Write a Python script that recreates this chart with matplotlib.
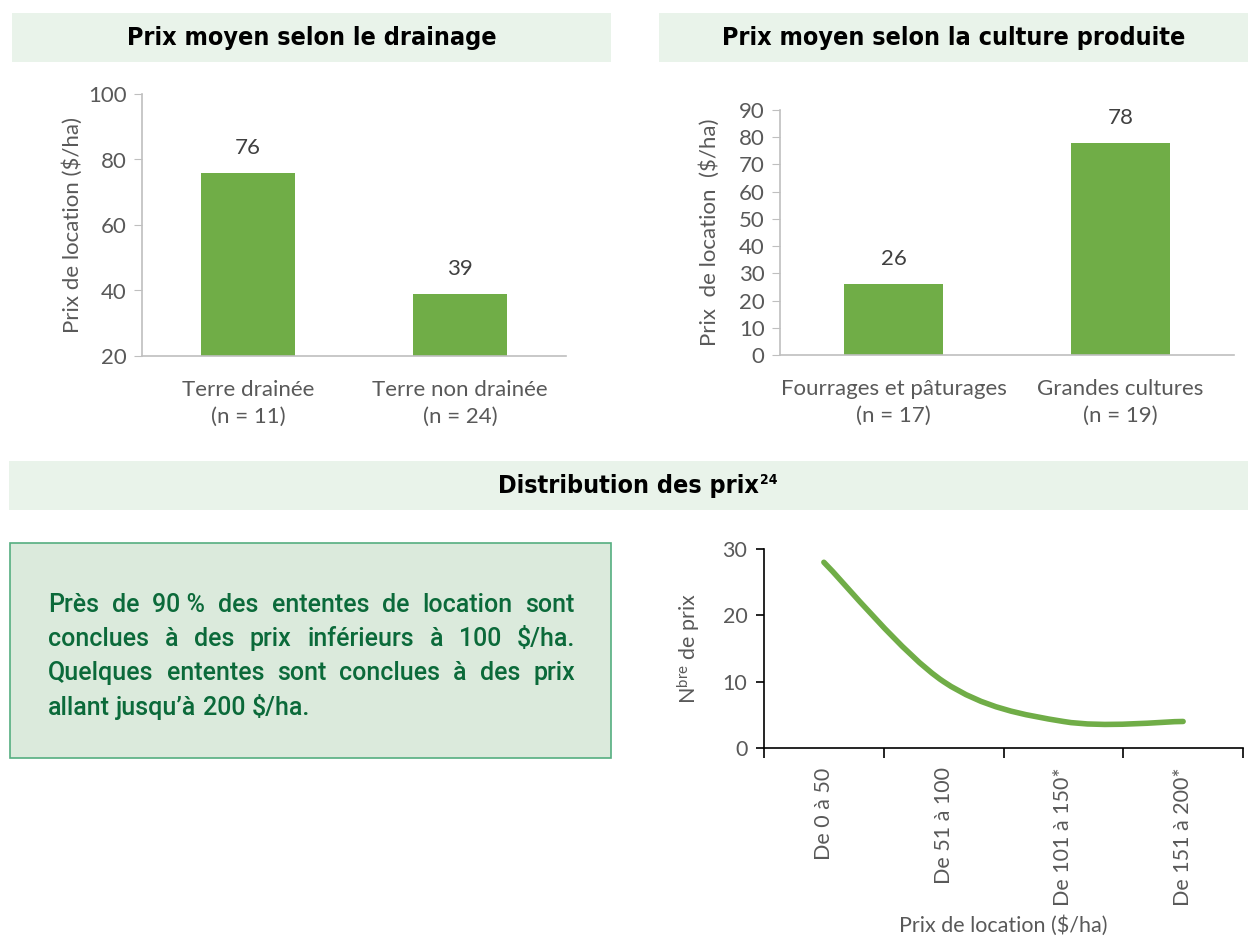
import numpy as np
import matplotlib
matplotlib.use("Agg")
import matplotlib.pyplot as plt
from matplotlib.patches import Rectangle, PathPatch
from matplotlib.path import Path
from matplotlib import font_manager
from matplotlib.font_manager import FontProperties

# ---- data -------------------------------------------------------------
drain_labels = ["Terre drainée\n(n = 11)", "Terre non drainée\n(n = 24)"]
drain_values = [76, 39]

crop_labels = ["Fourrages et pâturages\n(n = 17)", "Grandes cultures\n(n = 19)"]
crop_values = [26, 78]

dist_labels = ["De 0 à 50", "De 51 à 100", "De 101 à 150*", "De 151 à 200*"]
dist_counts = [28, 10, 4, 4]

note_lines = [
    "Près de 90\u00a0% des ententes de location sont",
    "conclues à des prix inférieurs à 100 $/ha.",
    "Quelques ententes sont conclues à des prix",
    "allant jusqu’à 200 $/ha.",
]

# ---- style -------------------------------------------------------------
W, H = 1248, 938
GREEN = "#70AD47"
BAND = "#E9F3EA"
TICK_GREY = "#595959"
AXIS_GREY = "#BFBFBF"
LABEL_FONT = ["Lato", "DejaVu Sans"]
NOTE_FONT = ["Roboto", "DejaVu Sans"]
FS = 16
FS3 = 15.5
plt.rcParams["font.family"] = LABEL_FONT


def narrow_bold_font():
    """Pick a bold condensed sans face if one is installed."""
    best = None
    for f in font_manager.fontManager.ttflist:
        narrow = (f.stretch in ("condensed", "semi-condensed", "extra-condensed")
                  or "Narrow" in f.name or "Condensed" in f.name)
        if not narrow or "Mono" in f.name or "Serif" in f.name:
            continue
        w = f.weight if isinstance(f.weight, int) else 700 if "bold" in str(f.weight) else 400
        score = abs(w - 700) + (0 if f.style == "normal" else 1000)
        if best is None or score < best[0]:
            best = (score, f.fname)
    if best is not None:
        return FontProperties(fname=best[1])
    return FontProperties(family=["Roboto", "DejaVu Sans"], weight="bold")


TITLE_PROP = narrow_bold_font()

fig = plt.figure(figsize=(W / 100, H / 100), dpi=100)
renderer = fig.canvas.get_renderer()


def box(x0, y0, x1, y1):
    """Pixel box (top-left origin) -> figure fraction rect."""
    return [x0 / W, 1 - y1 / H, (x1 - x0) / W, (y1 - y0) / H]


def band(x0, y0, x1, y1, title, sup=None):
    fig.patches.append(Rectangle((x0 / W, 1 - y1 / H), (x1 - x0) / W, (y1 - y0) / H,
                                 transform=fig.transFigure, facecolor=BAND,
                                 edgecolor="none", zorder=0))
    yc = 1 - (y0 + y1) / 2 / H
    p = TITLE_PROP.copy()
    p.set_size(18)
    t = fig.text((x0 + x1) / 2 / W, yc, title, ha="center", va="center",
                 fontproperties=p, color="black")
    if sup:
        bb = t.get_window_extent(renderer)
        ps = TITLE_PROP.copy()
        ps.set_size(10)
        fig.text(bb.x1 / W + 0.0008, bb.y1 / H + 0.001, sup, ha="left", va="top",
                 fontproperties=ps, color="black")


band(12, 13, 611, 62, "Prix moyen selon le drainage")
band(659, 13, 1248, 62, "Prix moyen selon la culture produite")
band(9, 461, 1248, 510, "Distribution des prix", sup="24")


def bar_chart(rect, labels, values, ylim, step, ylabel, label_x):
    ax = fig.add_axes(rect)
    x = np.arange(len(values))
    ax.bar(x, values, width=0.44, color=GREEN, zorder=2)
    ax.set_xlim(-0.5, len(values) - 0.5)
    ax.set_ylim(*ylim)
    ax.set_yticks(np.arange(ylim[0], ylim[1] + 0.1, step))
    ax.set_xticks(x)
    ax.set_xticklabels(labels, fontsize=FS, color=TICK_GREY, linespacing=1.45)
    ax.tick_params(axis="x", length=0, pad=17)
    ax.tick_params(axis="y", length=6, color=AXIS_GREY, labelsize=FS,
                   labelcolor=TICK_GREY, pad=5)
    for s in ("top", "right"):
        ax.spines[s].set_visible(False)
    for s in ("left", "bottom"):
        ax.spines[s].set_color(AXIS_GREY)
        ax.spines[s].set_linewidth(1.2)
    ax.set_ylabel(ylabel, fontsize=FS, color=TICK_GREY)
    ax.yaxis.set_label_coords(label_x, 0.5)
    for xi, v in zip(x, values):
        ax.annotate(f"{v}", (xi, v), xytext=(0, 15), textcoords="offset pixels",
                    ha="center", va="bottom", fontsize=FS, color="#404040")
    ax.patch.set_alpha(0)
    return ax


bar_chart(box(142, 94, 566, 356), drain_labels, drain_values, (20, 100), 20,
          "Prix de location ($/ha)", -0.139)
bar_chart(box(780, 110, 1234, 355), crop_labels, crop_values, (0, 90), 10,
          "Prix  de location  ($/ha)", -0.132)

# ---- note box -----------------------------------------------------------
fig.patches.append(Rectangle((10 / W, 1 - 758 / H), 601 / W, 215 / H,
                             transform=fig.transFigure, facecolor="#DBEADC",
                             edgecolor="#55AE80", linewidth=1.2, zorder=0))
NOTE_COLOR = "#0B6A3A"
NOTE_FS = 18
NOTE_W = "medium"
left_px, right_px = 48, 575
line_y = [605, 639, 673, 708]


def width_of(s):
    t = fig.text(0, 0, s, fontsize=NOTE_FS, family=NOTE_FONT, fontweight=NOTE_W)
    w = t.get_window_extent(renderer).width
    t.remove()
    return w


space_w = width_of("a a") - 2 * width_of("a")
for i, (line, yy) in enumerate(zip(note_lines, line_y)):
    words = line.split(" ")
    texts = [fig.text(0, 1 - yy / H, w, fontsize=NOTE_FS, color=NOTE_COLOR,
                      family=NOTE_FONT, fontweight=NOTE_W, va="center", ha="left")
             for w in words]
    widths = [t.get_window_extent(renderer).width for t in texts]
    if i < len(note_lines) - 1:
        gap = (right_px - left_px - sum(widths)) / (len(words) - 1)
    else:
        gap = space_w
    xcur = left_px
    for t, w in zip(texts, widths):
        t.set_x(xcur / W)
        xcur += w + gap

# ---- distribution curve --------------------------------------------------
ax3 = fig.add_axes(box(764, 549, 1243, 748))
xi = np.arange(len(dist_counts), dtype=float)
yi = np.asarray(dist_counts, dtype=float)
# smoothed curve: cubic Bezier segments with Catmull-Rom style control points
P = np.column_stack([xi, yi])
Pext = np.vstack([P[0], P, P[-1]])
verts, codes = [tuple(P[0])], [Path.MOVETO]
for k in range(len(P) - 1):
    p0, p1, p2, p3 = Pext[k], Pext[k + 1], Pext[k + 2], Pext[k + 3]
    c1 = p1 + (p2 - p0) / 6
    c2 = p2 - (p3 - p1) / 6
    verts += [tuple(c1), tuple(c2), tuple(p2)]
    codes += [Path.CURVE4] * 3
ax3.add_patch(PathPatch(Path(verts, codes), facecolor="none", edgecolor=GREEN,
                        linewidth=4.0, capstyle="round", joinstyle="round"))
ax3.set_xlim(-0.5, len(dist_counts) - 0.5)
ax3.set_ylim(0, 30)
ax3.set_yticks([0, 10, 20, 30])
ax3.set_xticks(xi)
ax3.set_xticklabels(dist_labels, rotation=90, fontsize=FS3, color=TICK_GREY, va="top")
ax3.set_xticks(np.arange(-0.5, len(dist_counts), 1.0), minor=True)
ax3.tick_params(axis="x", which="major", length=0, pad=14)
ax3.tick_params(axis="x", which="minor", length=7, width=1.2, color="black")
ax3.tick_params(axis="y", length=6, width=1.2, color="black", labelsize=FS3,
                labelcolor=TICK_GREY, pad=6)
for s in ("top", "right"):
    ax3.spines[s].set_visible(False)
for s in ("left", "bottom"):
    ax3.spines[s].set_color("black")
    ax3.spines[s].set_linewidth(1.2)
ax3.set_ylabel(r"$\mathregular{N^{bre}}$ de prix", fontsize=FS3, color=TICK_GREY)
ax3.yaxis.set_label_coords(-0.129, 0.5)
ax3.patch.set_alpha(0)
fig.text(1003 / W, 1 - 926 / H, "Prix de location ($/ha)", ha="center", va="center",
         fontsize=FS3, color=TICK_GREY)

fig.savefig("out.png", dpi=100)
